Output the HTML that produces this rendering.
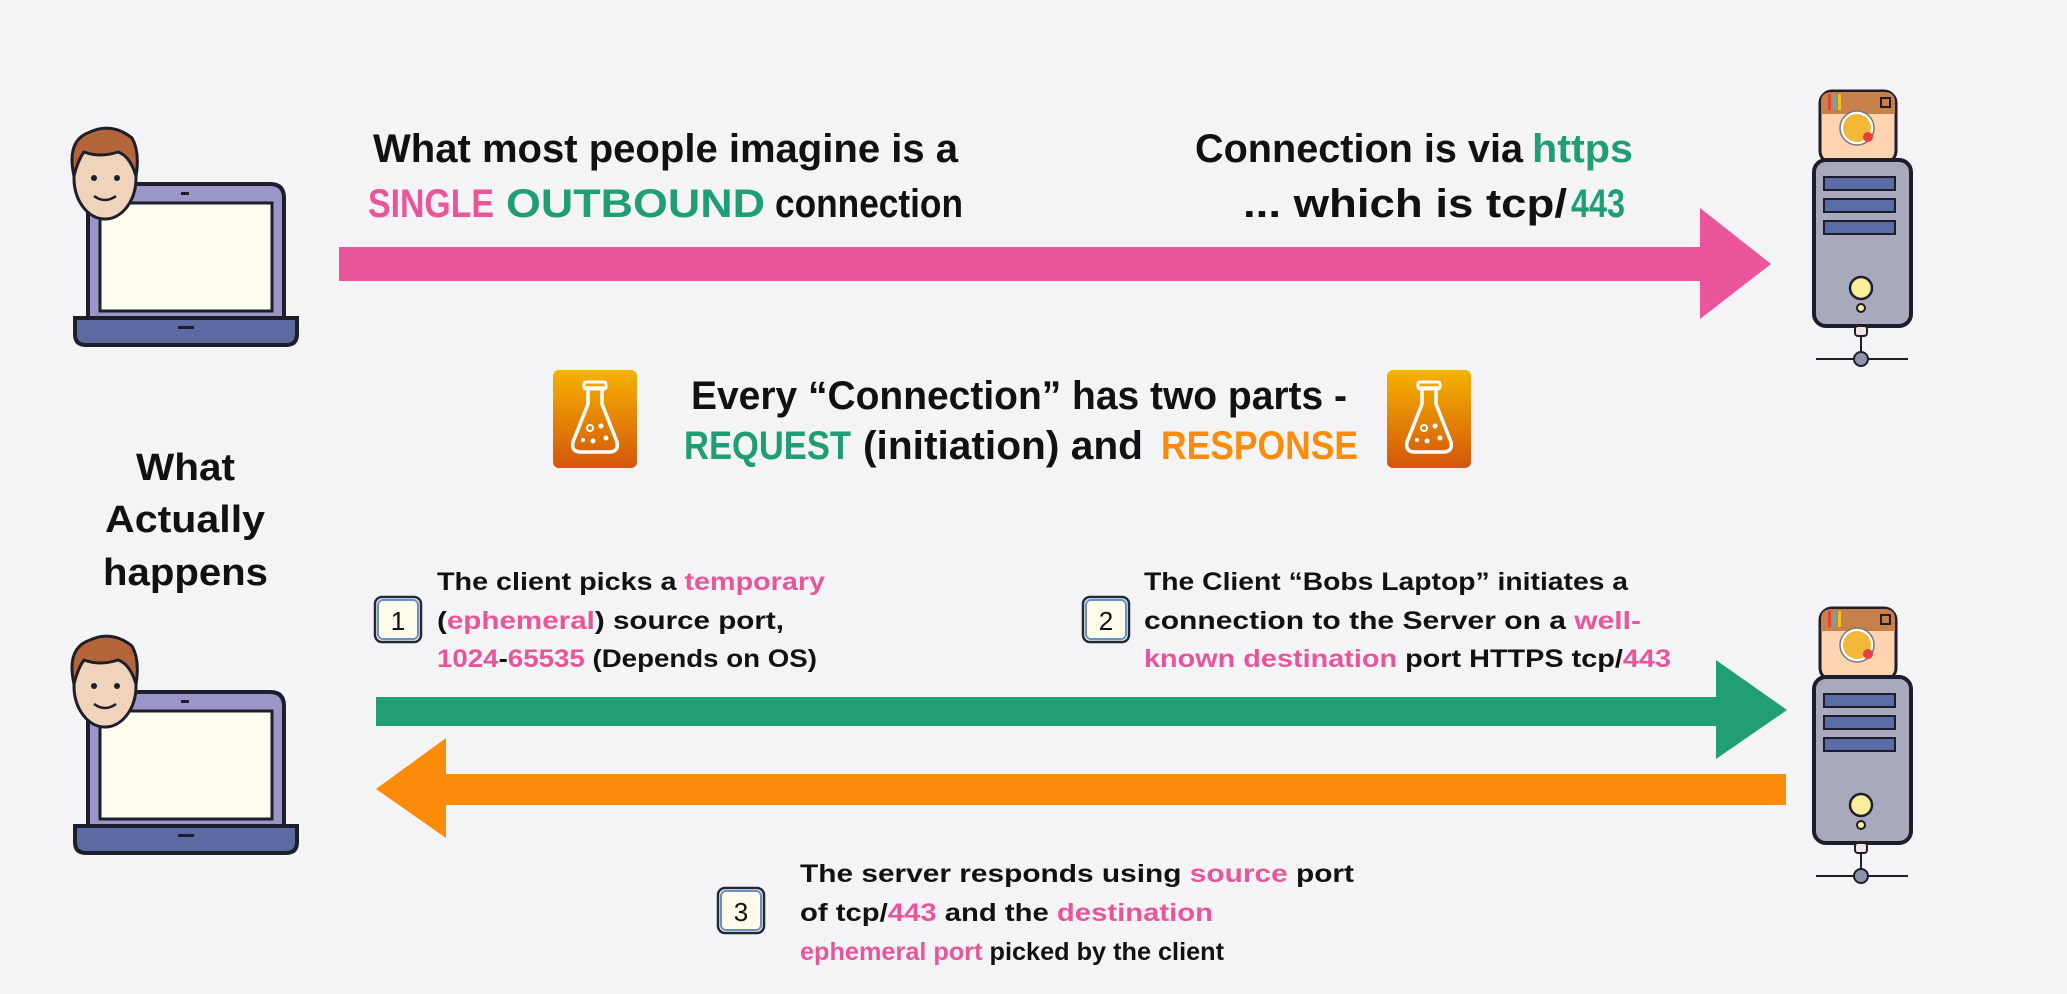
<!DOCTYPE html>
<html><head><meta charset="utf-8"><style>
html,body{margin:0;padding:0;background:#f4f4f6;}
svg{display:block;}
text{font-family:"Liberation Sans",sans-serif;font-weight:bold;fill:#111;}
.p{fill:#e8559a}.g{fill:#1f9e76}.o{fill:#f98c0a}
</style></head><body>
<svg width="2067" height="994" viewBox="0 0 2067 994" xmlns="http://www.w3.org/2000/svg">
<defs>
<linearGradient id="fl" x1="0" y1="0" x2="0" y2="1"><stop offset="0" stop-color="#f5b300"/><stop offset="1" stop-color="#d4560c"/></linearGradient>
<g id="laptop">
  <path d="M88,340 V198 Q88,184 102,184 H270 Q284,184 284,198 V340 Z" fill="#9a97c8" stroke="#1e1e2a" stroke-width="4"/>
  <rect x="100" y="203" width="172" height="108" fill="#fffdf0" stroke="#1e1e2a" stroke-width="3"/>
  <rect x="181" y="192" width="8" height="3" fill="#1e1e2a"/>
  <path d="M75,318 H297 V334 Q297,345 286,345 H86 Q75,345 75,334 Z" fill="#5b6aa0" stroke="#1e1e2a" stroke-width="4"/>
  <rect x="178" y="326" width="16" height="3" fill="#1e1e2a"/>
  <ellipse cx="105" cy="178" rx="31" ry="41" fill="#f0d3bb" stroke="#1e1e2a" stroke-width="3"/>
  <path d="M74,176 Q66,140 90,132 Q112,122 132,138 Q140,152 136,176 Q130,156 118,152 Q100,158 84,152 Q78,160 74,176 Z" fill="#b5653a" stroke="#1e1e2a" stroke-width="3"/>
  <circle cx="94" cy="178" r="3" fill="#1e1e2a"/><circle cx="117" cy="178" r="3" fill="#1e1e2a"/>
  <path d="M94,196 Q105,204 116,196" fill="none" stroke="#1e1e2a" stroke-width="2.5"/>
</g>
<g id="server">
  <rect x="1820" y="91" width="76" height="72" rx="12" fill="#fdd3b0" stroke="#1e1e2a" stroke-width="3"/>
  <path d="M1821,114 V102 Q1821,92 1832,92 H1884 Q1895,92 1895,102 V114 Z" fill="#c8804a"/>
  <rect x="1881" y="98" width="9" height="9" fill="none" stroke="#1e1e2a" stroke-width="2"/>
  <rect x="1828" y="94" width="3" height="16" fill="#e0433a"/><rect x="1833" y="94" width="3" height="16" fill="#3bb7d8"/><rect x="1838" y="94" width="3" height="16" fill="#f0c020"/>
  <circle cx="1857" cy="128" r="17" fill="#fff" stroke="#777" stroke-width="1.5"/>
  <circle cx="1857" cy="128" r="14" fill="#f3b73a"/>
  <circle cx="1868" cy="137" r="5" fill="#e84040"/>
  <rect x="1814" y="160" width="97" height="166" rx="12" fill="#a9a9bd" stroke="#1e1e2a" stroke-width="4"/>
  <rect x="1824" y="177" width="71" height="13" fill="#5a6ca5" stroke="#1e1e2a" stroke-width="2"/>
  <rect x="1824" y="199" width="71" height="13" fill="#5a6ca5" stroke="#1e1e2a" stroke-width="2"/>
  <rect x="1824" y="221" width="71" height="13" fill="#5a6ca5" stroke="#1e1e2a" stroke-width="2"/>
  <circle cx="1861" cy="288" r="11" fill="#f6ee9a" stroke="#1e1e2a" stroke-width="2.5"/>
  <circle cx="1861" cy="308" r="4" fill="#f6ee9a" stroke="#1e1e2a" stroke-width="2"/>
  <line x1="1861" y1="326" x2="1861" y2="358" stroke="#1e1e2a" stroke-width="2"/>
  <rect x="1855" y="326" width="12" height="10" rx="3" fill="#f4e4e4" stroke="#1e1e2a" stroke-width="2"/>
  <line x1="1816" y1="359" x2="1908" y2="359" stroke="#1e1e2a" stroke-width="2"/>
  <circle cx="1861" cy="359" r="7" fill="#8a93aa" stroke="#1e1e2a" stroke-width="2"/>
</g>
<g id="flask">
  <rect x="0" y="0" width="84" height="98" rx="6" fill="url(#fl)"/>
  <path d="M33,18 H51 M35,18 V34 L20,72 Q18,82 28,82 H56 Q66,82 64,72 L49,34 V18" fill="none" stroke="#fff" stroke-width="3.5"/>
  <rect x="31" y="12" width="22" height="7" rx="2" fill="none" stroke="#fff" stroke-width="3"/>
  <circle cx="37" cy="58" r="3" fill="none" stroke="#fff" stroke-width="2"/><circle cx="48" cy="56" r="2.5" fill="#fff"/><circle cx="40" cy="71" r="2.5" fill="#fff"/><circle cx="53" cy="68" r="2.5" fill="#fff"/><circle cx="30" cy="70" r="2" fill="#fff"/>
</g>
<g id="nbox">
  <rect x="0" y="0" width="46" height="45" rx="7" fill="#fffbea" stroke="#1e2a3a" stroke-width="2.5"/>
  <rect x="3" y="3" width="40" height="39" rx="5" fill="none" stroke="#6b8fc4" stroke-width="2"/>
</g>
</defs>

<rect width="2067" height="994" fill="#f4f4f6"/>

<use href="#laptop"/>
<use href="#laptop" transform="translate(0,508)"/>
<use href="#server"/>
<use href="#server" transform="translate(0,517)"/>

<rect x="339" y="247" width="1372" height="34" fill="#eb559b"/>
<polygon points="1700,208 1771,264 1700,319" fill="#eb559b"/>
<rect x="376" y="697" width="1348" height="29" fill="#229e76"/>
<polygon points="1716,660 1787,710 1716,759" fill="#229e76"/>
<rect x="440" y="774" width="1346" height="31" fill="#fb8c0a"/>
<polygon points="446,738 376,789 446,838" fill="#fb8c0a"/>

<text x="373" y="162" font-size="40" textLength="585" lengthAdjust="spacingAndGlyphs">What most people imagine is a</text>
<text x="368" y="217" font-size="40" class="p" textLength="126" lengthAdjust="spacingAndGlyphs">SINGLE</text>
<text x="506" y="217" font-size="40" class="g" textLength="259" lengthAdjust="spacingAndGlyphs">OUTBOUND</text>
<text x="775" y="217" font-size="40" textLength="188" lengthAdjust="spacingAndGlyphs">connection</text>

<text x="1195" y="162" font-size="40" textLength="328" lengthAdjust="spacingAndGlyphs">Connection is via</text>
<text x="1532" y="162" font-size="40" class="g" textLength="101" lengthAdjust="spacingAndGlyphs">https</text>
<text x="1243" y="217" font-size="40" textLength="324" lengthAdjust="spacingAndGlyphs">... which is tcp/</text>
<text x="1571" y="217" font-size="40" class="g" textLength="54" lengthAdjust="spacingAndGlyphs">443</text>

<use href="#flask" transform="translate(553,370)"/>
<use href="#flask" transform="translate(1387,370)"/>
<text x="691" y="409" font-size="40" textLength="656" lengthAdjust="spacingAndGlyphs">Every “Connection” has two parts -</text>
<text x="684" y="459" font-size="40" class="g" textLength="167" lengthAdjust="spacingAndGlyphs">REQUEST</text>
<text x="863" y="459" font-size="40" textLength="280" lengthAdjust="spacingAndGlyphs">(initiation) and</text>
<text x="1161" y="459" font-size="40" class="o" textLength="197" lengthAdjust="spacingAndGlyphs">RESPONSE</text>

<text x="136" y="480" font-size="38" textLength="99" lengthAdjust="spacingAndGlyphs">What</text>
<text x="105" y="532" font-size="38" textLength="160" lengthAdjust="spacingAndGlyphs">Actually</text>
<text x="103" y="585" font-size="38" textLength="165" lengthAdjust="spacingAndGlyphs">happens</text>

<use href="#nbox" transform="translate(375,597)"/>
<text x="398" y="630" font-size="26" text-anchor="middle" style="font-weight:normal">1</text>
<text x="437" y="590" font-size="25" textLength="388" lengthAdjust="spacingAndGlyphs">The client picks a <tspan class="p">temporary</tspan></text>
<text x="437" y="629" font-size="25" textLength="347" lengthAdjust="spacingAndGlyphs">(<tspan class="p">ephemeral</tspan>) source port,</text>
<text x="437" y="667" font-size="25" textLength="380" lengthAdjust="spacingAndGlyphs"><tspan class="p">1024</tspan>-<tspan class="p">65535</tspan> (Depends on OS)</text>

<use href="#nbox" transform="translate(1083,597)"/>
<text x="1106" y="630" font-size="26" text-anchor="middle" style="font-weight:normal">2</text>
<text x="1144" y="590" font-size="25" textLength="484" lengthAdjust="spacingAndGlyphs">The Client “Bobs Laptop” initiates a</text>
<text x="1144" y="629" font-size="25" textLength="497" lengthAdjust="spacingAndGlyphs">connection to the Server on a <tspan class="p">well-</tspan></text>
<text x="1144" y="667" font-size="25" textLength="527" lengthAdjust="spacingAndGlyphs"><tspan class="p">known destination</tspan> port HTTPS tcp/<tspan class="p">443</tspan></text>

<use href="#nbox" transform="translate(718,888)"/>
<text x="741" y="921" font-size="26" text-anchor="middle" style="font-weight:normal">3</text>
<text x="800" y="882" font-size="25" textLength="554" lengthAdjust="spacingAndGlyphs">The server responds using <tspan class="p">source</tspan> port</text>
<text x="800" y="921" font-size="25" textLength="413" lengthAdjust="spacingAndGlyphs">of tcp/<tspan class="p">443</tspan> and the <tspan class="p">destination</tspan></text>
<text x="800" y="960" font-size="25" textLength="424" lengthAdjust="spacingAndGlyphs"><tspan class="p">ephemeral port</tspan> picked by the client</text>
</svg>
</body></html>
